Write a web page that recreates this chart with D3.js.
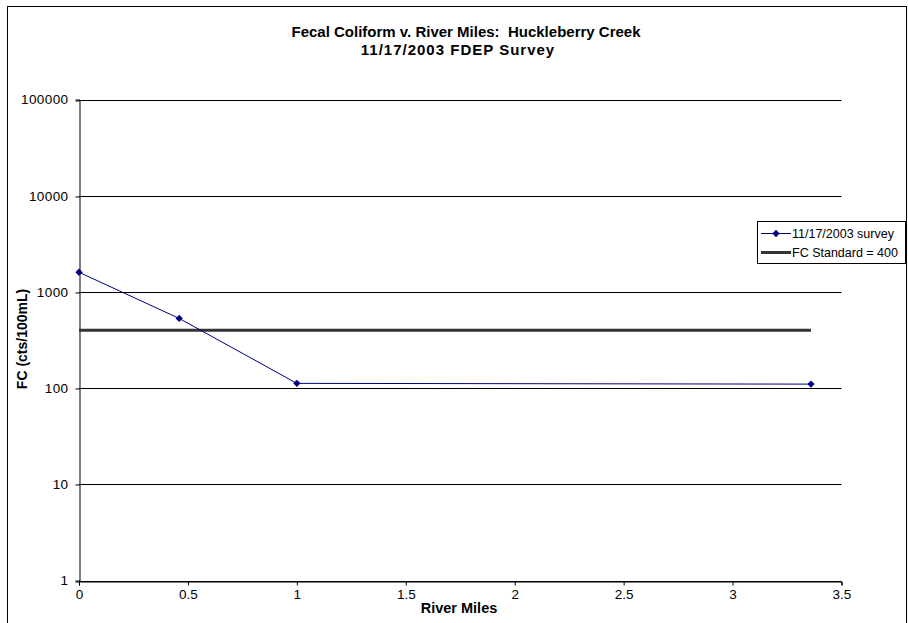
<!DOCTYPE html>
<html>
<head>
<meta charset="utf-8">
<script src="https://cdn.jsdelivr.net/npm/d3@7"></script>
<style>
  html, body { margin: 0; padding: 0; background: #fff; }
  svg { display: block; font-family: "Liberation Sans", Arial, sans-serif; }
  .title { white-space: pre; }
</style>
</head>
<body>
<svg id="chart" width="908" height="623"></svg>
<script>
// Survey stations: river miles and fecal coliform counts
const riverMiles = [0, 0.46, 1.0, 3.36];
const fcCounts = [1600, 530, 112, 110];
const standardMiles = [0, 3.36];
const standardValues = [400, 400];
const xTicks = [0, 0.5, 1, 1.5, 2, 2.5, 3, 3.5];
const yTicks = [1, 10, 100, 1000, 10000, 100000];
const titleLines = ["Fecal Coliform v. River Miles:  Huckleberry Creek", "11/17/2003 FDEP Survey"];
const legendLabels = ["11/17/2003 survey", "FC Standard = 400"];

const svg = d3.select("#chart");
const plot = { left: 79, right: 841.5, top: 99.5, bottom: 580.5 };

// outer chart frame
svg.append("rect")
  .attr("x", 7.5).attr("y", 6.5)
  .attr("width", 899).attr("height", 640)
  .attr("fill", "#fff").attr("stroke", "#000").attr("stroke-width", 1);

const x = d3.scaleLinear().domain([0, 3.5]).range([plot.left, plot.right]);
const y = d3.scaleLog().domain([1, 100000]).range([plot.bottom, plot.top]);

// horizontal gridlines
svg.append("g")
  .selectAll("line")
  .data(yTicks)
  .join("line")
  .attr("x1", plot.left).attr("x2", plot.right)
  .attr("y1", d => Math.round(y(d)) + 0.5).attr("y2", d => Math.round(y(d)) + 0.5)
  .attr("stroke", "#000").attr("stroke-width", 1);

// y axis
const yAxis = svg.append("g")
  .attr("transform", `translate(${plot.left + 0.5},0)`)
  .call(d3.axisLeft(y).tickValues(yTicks).tickFormat(d3.format("d")).tickSize(4).tickPadding(7));
yAxis.select(".domain").attr("stroke", "#000");
yAxis.selectAll(".tick line").attr("stroke", "#000")
  .attr("transform", d => `translate(0,${Math.round(y(d)) + 0.5 - y(d)})`);
yAxis.selectAll(".tick text")
  .attr("font-size", 13.5).attr("fill", "#000")
  .attr("letter-spacing", 0.4)
  .attr("font-family", "'Liberation Sans', Arial, sans-serif");

// x axis
const xAxis = svg.append("g")
  .attr("transform", `translate(0,${Math.round(plot.bottom) + 0.5})`)
  .call(d3.axisBottom(x).tickValues(xTicks).tickFormat(d3.format("")).tickSize(4).tickPadding(4));
xAxis.select(".domain").attr("stroke", "#000");
xAxis.selectAll(".tick line").attr("stroke", "#000");
xAxis.selectAll(".tick text")
  .attr("font-size", 13.5).attr("fill", "#000")
  .attr("font-family", "'Liberation Sans', Arial, sans-serif");

// FC standard line
const line = d3.line().x(d => x(d[0])).y(d => y(d[1]));
svg.append("path")
  .datum(d3.zip(standardMiles, standardValues))
  .attr("d", line)
  .attr("fill", "none")
  .attr("stroke", "#333")
  .attr("stroke-width", 3);

// survey series
const surveyData = d3.zip(riverMiles, fcCounts);
svg.append("path")
  .datum(surveyData)
  .attr("d", line)
  .attr("fill", "none")
  .attr("stroke", "#000080")
  .attr("stroke-width", 1);

const diamond = d3.symbol().type(d3.symbolDiamond2).size(34);
svg.append("g")
  .selectAll("path")
  .data(surveyData)
  .join("path")
  .attr("transform", d => `translate(${x(d[0])},${y(d[1])})`)
  .attr("d", diamond)
  .attr("fill", "#000080");

// titles
const titleX = [466, 458];
svg.append("g")
  .selectAll("text")
  .data(titleLines)
  .join("text")
  .attr("class", "title")
  .attr("x", (d, i) => titleX[i])
  .attr("y", (d, i) => 36.5 + i * 18.5)
  .attr("text-anchor", "middle")
  .attr("font-size", 15)
  .attr("font-weight", "bold")
  .attr("letter-spacing", (d, i) => i === 0 ? 0 : 1)
  .attr("fill", "#000")
  .text(d => d);

svg.append("text")
  .attr("transform", "translate(26.5,339) rotate(-90)")
  .attr("text-anchor", "middle")
  .attr("font-size", 14)
  .attr("font-weight", "bold")
  .text("FC (cts/100mL)");

svg.append("text")
  .attr("x", 459)
  .attr("y", 613)
  .attr("text-anchor", "middle")
  .attr("font-size", 14.5)
  .attr("font-weight", "bold")
  .text("River Miles");

// legend
const legend = svg.append("g");
legend.append("rect")
  .attr("x", 757.5).attr("y", 221.5)
  .attr("width", 148).attr("height", 42)
  .attr("fill", "#fff").attr("stroke", "#000").attr("stroke-width", 1);

const rows = legend.selectAll("g")
  .data(legendLabels)
  .join("g")
  .attr("transform", (d, i) => `translate(0,${233 + i * 19})`);

rows.append("line")
  .attr("x1", 761).attr("x2", 791)
  .attr("y1", 0.5).attr("y2", 0.5)
  .attr("stroke", (d, i) => i === 0 ? "#000080" : "#333")
  .attr("stroke-width", (d, i) => i === 0 ? 1 : 3);

rows.filter((d, i) => i === 0)
  .append("path")
  .attr("transform", "translate(776,0.5)")
  .attr("d", diamond)
  .attr("fill", "#000080");

rows.append("text")
  .attr("x", 792)
  .attr("y", 5)
  .attr("font-size", 12.5)
  .attr("fill", "#000")
  .text(d => d);
</script>
</body>
</html>
